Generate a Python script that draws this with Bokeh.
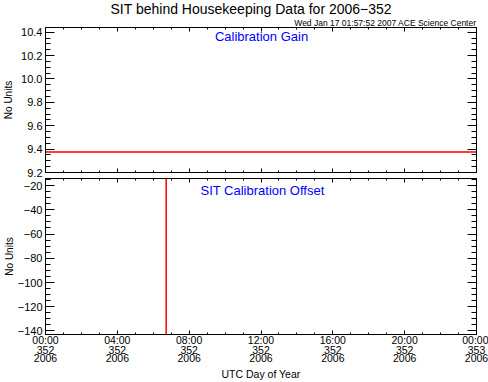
import numpy as np
from bokeh.plotting import figure
from bokeh.models import Range1d, FixedTicker, LinearAxis, Label, Title
from bokeh.layouts import column
from bokeh.embed import file_html
from bokeh.resources import INLINE

# ---------------- data ----------------
gain_hours = [0.0, 6.0, 12.0, 18.0, 24.0]
gain_values = [9.375, 9.375, 9.375, 9.375, 9.375]

offset_hours = [6.72, 6.72]
offset_values = [-160.0, 0.0]

gain_ticks = [9.2, 9.4, 9.6, 9.8, 10.0, 10.2, 10.4]
gain_tick_labels = ["9.2", "9.4", "9.6", "9.8", "10.0", "10.2", "10.4"]
offset_ticks = [-140, -120, -100, -80, -60, -40, -20]
offset_tick_labels = ["\u2212140", "\u2212120", "\u2212100", "\u221280", "\u221260", "\u221240", "\u221220"]
hour_ticks = [0, 4, 8, 12, 16, 20, 24]
hour_time_labels = ["00:00", "04:00", "08:00", "12:00", "16:00", "20:00", "00:00"]
hour_doy_labels = ["352", "352", "352", "352", "352", "352", "353"]
hour_year_labels = ["2006", "2006", "2006", "2006", "2006", "2006", "2006"]

title_text = "SIT behind Housekeeping Data for 2006\u2212352"
subtitle_text = "Wed Jan 17 01:57:52 2007 ACE Science Center"
gain_label = "Calibration Gain"
offset_label = "SIT Calibration Offset"
y_label = "No Units"
x_label = "UTC Day of Year"

FONT = "Liberation Sans"

hour_minor = [h for h in range(0, 25) if h % 4 != 0]
gain_minor = list(np.round(np.arange(9.2, 10.45, 0.05), 2))
offset_minor = list(range(-140, -9, 5))


def style_axis(ax, major_in, minor_in, show_labels, overrides=None, size="11px"):
    ax.axis_line_color = "black"
    ax.axis_line_width = 1
    ax.major_tick_line_color = "black"
    ax.minor_tick_line_color = "black"
    ax.major_tick_in = major_in
    ax.major_tick_out = 0
    ax.minor_tick_in = minor_in
    ax.minor_tick_out = 0
    ax.major_label_text_font = FONT
    ax.major_label_text_color = "black"
    ax.axis_label_text_font = FONT
    ax.axis_label_text_color = "black"
    ax.axis_label_text_font_style = "normal"
    if show_labels:
        ax.major_label_text_font_size = size
        ax.major_label_standoff = 3
        if overrides:
            ax.major_label_overrides = overrides
    else:
        ax.major_label_text_font_size = "0px"
        ax.major_label_standoff = 0
        ax.major_label_overrides = {t: "" for t in ax.ticker.ticks}


def label_only_axis(labels, standoff):
    ax = LinearAxis(ticker=FixedTicker(ticks=hour_ticks, minor_ticks=[]))
    ax.axis_line_color = None
    ax.major_tick_line_color = None
    ax.minor_tick_line_color = None
    ax.major_tick_in = 0
    ax.major_tick_out = 0
    ax.minor_tick_in = 0
    ax.minor_tick_out = 0
    ax.major_label_text_font = FONT
    ax.major_label_text_color = "black"
    ax.major_label_text_font_size = "10.5px"
    ax.major_label_standoff = standoff
    ax.major_label_overrides = dict(zip(hour_ticks, labels))
    ax.axis_label_text_font = FONT
    ax.axis_label_text_color = "black"
    ax.axis_label_text_font_style = "normal"
    return ax


def make_panel(height, yr, border_top, border_bottom):
    p = figure(width=488, height=height, x_range=Range1d(0, 24), y_range=yr,
               output_backend="svg", toolbar_location=None,
               min_border_left=44, min_border_right=12,
               min_border_top=border_top, min_border_bottom=border_bottom,
               x_axis_location=None, y_axis_location=None)
    p.xgrid.grid_line_color = None
    p.ygrid.grid_line_color = None
    p.outline_line_color = "black"
    p.outline_line_width = 1
    p.background_fill_color = "white"
    p.border_fill_color = "white"
    return p


# ---------------- top panel ----------------
top = make_panel(178, Range1d(9.2, 10.44), 25, 6)

ax = LinearAxis(ticker=FixedTicker(ticks=gain_ticks, minor_ticks=gain_minor))
style_axis(ax, 9, 5, True, dict(zip(gain_ticks, gain_tick_labels)))
ax.axis_label = y_label
ax.axis_label_text_font_size = "10px"
ax.axis_label_standoff = 4
top.add_layout(ax, "left")
ax = LinearAxis(ticker=FixedTicker(ticks=gain_ticks, minor_ticks=gain_minor))
style_axis(ax, 9, 5, False)
top.add_layout(ax, "right")
ax = LinearAxis(ticker=FixedTicker(ticks=hour_ticks, minor_ticks=hour_minor))
style_axis(ax, 4, 2, False)
top.add_layout(ax, "below")
ax = LinearAxis(ticker=FixedTicker(ticks=hour_ticks, minor_ticks=hour_minor))
style_axis(ax, 4, 2, False)
top.add_layout(ax, "above")

top.add_layout(Title(text=subtitle_text, align="right", standoff=0,
                     text_font=FONT, text_font_size="8.5px", text_font_style="normal",
                     text_color="black"), "above")
top.add_layout(Title(text=title_text, align="left", offset=65, standoff=-3,
                     text_font=FONT, text_font_size="14px", text_font_style="normal",
                     text_color="black"), "above")

top.line(gain_hours, gain_values, line_color="#ff0000", line_width=1.5)

top.add_layout(Label(x=216, y=136.5, x_units="screen", y_units="screen", text=gain_label,
                     text_align="center", text_baseline="middle",
                     text_font=FONT, text_font_size="13px", text_color="#0000ff"))

# ---------------- bottom panel ----------------
bot = make_panel(204, Range1d(-142.9, -14.2), 0, 48)

ax = LinearAxis(ticker=FixedTicker(ticks=offset_ticks, minor_ticks=offset_minor))
style_axis(ax, 9, 5, True, dict(zip(offset_ticks, offset_tick_labels)))
ax.axis_label = y_label
ax.axis_label_text_font_size = "10px"
ax.axis_label_standoff = 0
bot.add_layout(ax, "left")
ax = LinearAxis(ticker=FixedTicker(ticks=offset_ticks, minor_ticks=offset_minor))
style_axis(ax, 9, 5, False)
bot.add_layout(ax, "right")

ax = LinearAxis(ticker=FixedTicker(ticks=hour_ticks, minor_ticks=hour_minor))
style_axis(ax, 4, 2, True, dict(zip(hour_ticks, hour_time_labels)), size="10.5px")
ax.major_label_standoff = -1
bot.add_layout(ax, "below")
bot.add_layout(label_only_axis(hour_doy_labels, -3), "below")
ax = label_only_axis(hour_year_labels, -3)
ax.axis_label = x_label
ax.axis_label_text_font_size = "10.5px"
ax.axis_label_standoff = 3
bot.add_layout(ax, "below")

ax = LinearAxis(ticker=FixedTicker(ticks=hour_ticks, minor_ticks=hour_minor))
style_axis(ax, 4, 2, False)
bot.add_layout(ax, "above")

bot.line(offset_hours, offset_values, line_color="#ff0000", line_width=1.5)

bot.add_layout(Label(x=217, y=144, x_units="screen", y_units="screen", text=offset_label,
                     text_align="center", text_baseline="middle",
                     text_font=FONT, text_font_size="13px", text_color="#0000ff"))

layout = column(top, bot, spacing=0)
open("out.html", "w").write(file_html(layout, INLINE))
